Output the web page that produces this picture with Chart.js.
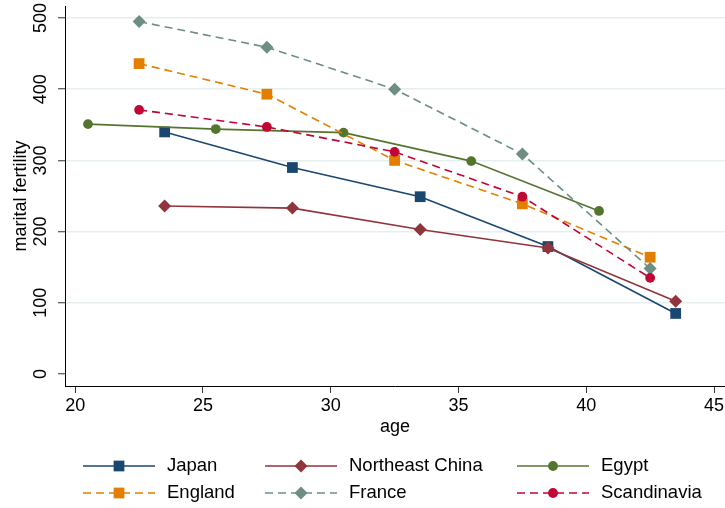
<!DOCTYPE html>
<html>
<head>
<meta charset="utf-8">
<title>Marital fertility by age</title>
<script src="https://cdn.jsdelivr.net/npm/chart.js@4/dist/chart.umd.min.js"></script>
<style>
  html, body { margin: 0; padding: 0; background: #fff; }
  #wrap { width: 725px; height: 508px; position: relative; }
</style>
</head>
<body>
<div id="wrap"><canvas id="chart" width="725" height="508"></canvas></div>
<script>
// Age-group midpoints for each population
const agesJapanChina = [23.5, 28.5, 33.5, 38.5, 43.5];
const agesEgypt      = [20.5, 25.5, 30.5, 35.5, 40.5];
const agesEurope     = [22.5, 27.5, 32.5, 37.5, 42.5];

// Marital fertility rates (births per 1000 married women)
const japan       = [340, 290, 249, 179, 85];
const neChina     = [236, 233, 203, 177, 102];
const egypt       = [351, 344, 339, 299, 229];
const england     = [436, 393, 300, 239, 164];
const france      = [495, 459, 400, 309, 148];
const scandinavia = [371, 347, 312, 249, 135];

const xTicks = [20, 25, 30, 35, 40, 45];
const yTicks = [0, 100, 200, 300, 400, 500];

const FONT = "'Liberation Sans', Arial, Helvetica, sans-serif";

function pts(ages, vals) {
  return ages.map((a, i) => ({ x: a, y: vals[i] }));
}

function series(label, ages, vals, color, style, radius, dash, idx) {
  return {
    label,
    data: pts(ages, vals),
    borderColor: color,
    backgroundColor: color,
    borderWidth: 1.6,
    borderDash: dash,
    pointStyle: style,
    pointRadius: radius,
    pointBackgroundColor: color,
    pointBorderColor: color,
    pointBorderWidth: 0,
    tension: 0,
    order: 6 - idx
  };
}

const datasets = [
  series('Japan',           agesJapanChina, japan,       '#1a476f', 'rect',    7.6, [],     0),
  series('Northeast China', agesJapanChina, neChina,     '#90353b', 'rectRot', 6.5, [],     1),
  series('Egypt',           agesEgypt,      egypt,       '#55752f', 'circle',  4.9, [],     2),
  series('England',         agesEurope,     england,     '#e37e00', 'rect',    7.6, [8, 5], 3),
  series('France',          agesEurope,     france,      '#6e8e84', 'rectRot', 6.5, [8, 5], 4),
  series('Scandinavia',     agesEurope,     scandinavia, '#c10534', 'circle',  4.9, [8, 5], 5)
];

// Three-column key below the plot: line sample with marker, then label
const keyPlugin = {
  id: 'keyBelow',
  afterDraw(chart) {
    const ctx = chart.ctx;
    const cols = [119, 301, 553];
    const rows = [466, 493];
    chart.data.datasets.forEach((ds, i) => {
      const cx = cols[i % 3];
      const cy = rows[Math.floor(i / 3)];
      ctx.save();
      ctx.strokeStyle = ds.borderColor;
      ctx.lineWidth = ds.borderWidth;
      ctx.setLineDash(ds.borderDash || []);
      ctx.beginPath();
      ctx.moveTo(cx - 36, cy);
      ctx.lineTo(cx + 36, cy);
      ctx.stroke();
      ctx.setLineDash([]);
      ctx.fillStyle = ds.pointBackgroundColor;
      ctx.strokeStyle = ds.pointBorderColor;
      Chart.helpers.drawPoint(ctx, {
        pointStyle: ds.pointStyle,
        radius: ds.pointRadius,
        borderWidth: 0,
        rotation: 0
      }, cx, cy);
      ctx.fillStyle = '#000';
      ctx.font = '18.5px ' + FONT;
      ctx.textAlign = 'left';
      ctx.textBaseline = 'middle';
      ctx.fillText(ds.label, cx + 48, cy);
      ctx.restore();
    });
  }
};

const whiteBg = {
  id: 'whiteBg',
  beforeDraw(chart) {
    const ctx = chart.ctx;
    ctx.save();
    ctx.fillStyle = '#fff';
    ctx.fillRect(0, 0, chart.width, chart.height);
    ctx.restore();
  }
};

new Chart(document.getElementById('chart'), {
  type: 'line',
  data: { datasets },
  plugins: [whiteBg, keyPlugin],
  options: {
    responsive: false,
    animation: false,
    devicePixelRatio: 1,
    layout: { autoPadding: false, padding: { top: 6, right: 0, bottom: 62, left: 0 } },
    plugins: {
      legend: { display: false },
      tooltip: { enabled: false }
    },
    scales: {
      x: {
        type: 'linear',
        min: 19.6,
        max: 45.43,
        afterBuildTicks: s => { s.ticks = xTicks.map(v => ({ value: v })); },
        afterFit: s => { s.height = 60; s.paddingLeft = 0; s.paddingRight = 0; },
        grid: { drawOnChartArea: false, tickLength: 7, tickColor: '#333', tickWidth: 1 },
        border: { color: '#000', width: 1 },
        ticks: {
          font: { family: FONT, size: 18 },
          color: '#000',
          padding: 2,
          minRotation: 0,
          maxRotation: 0,
          autoSkip: false
        },
        title: {
          display: true,
          text: 'age',
          font: { family: FONT, size: 18 },
          color: '#000',
          padding: { top: 0, bottom: 8 }
        }
      },
      y: {
        type: 'linear',
        min: -16.9,
        max: 516.9,
        afterBuildTicks: s => { s.ticks = yTicks.map(v => ({ value: v })); },
        afterFit: s => { s.width = 65; s.paddingTop = 0; s.paddingBottom = 0; },
        grid: {
          color: c => (c.tick && c.tick.value === 0) ? 'rgba(0,0,0,0)' : '#e6eef0',
          lineWidth: 1.5,
          tickLength: 7,
          tickColor: '#333',
          tickWidth: 1
        },
        border: { color: '#000', width: 1 },
        ticks: {
          font: { family: FONT, size: 18 },
          color: '#000',
          padding: 2,
          minRotation: 90,
          maxRotation: 90,
          crossAlign: 'center',
          autoSkip: false
        },
        title: {
          display: true,
          text: 'marital fertility',
          font: { family: FONT, size: 18 },
          color: '#000',
          padding: { top: 10, bottom: 0 }
        }
      }
    }
  }
});
</script>
</body>
</html>
